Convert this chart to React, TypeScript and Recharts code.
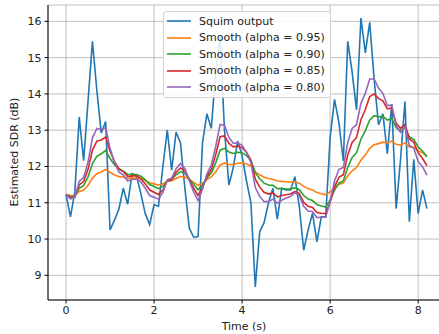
import { LineChart, Line, XAxis, YAxis, CartesianGrid, Legend } from "recharts";

// time axis, one estimate every 100 ms
const times = [
  0, 0.1, 0.2, 0.3, 0.4, 0.5, 0.6, 0.7, 0.8, 0.9,
  1.0, 1.1, 1.2, 1.3, 1.4, 1.5, 1.6, 1.7, 1.8, 1.9,
  2.0, 2.1, 2.2, 2.3, 2.4, 2.5, 2.6, 2.7, 2.8, 2.9,
  3.0, 3.1, 3.2, 3.3, 3.4, 3.5, 3.6, 3.7, 3.8, 3.9,
  4.0, 4.1, 4.2, 4.3, 4.4, 4.5, 4.6, 4.7, 4.8, 4.9,
  5.0, 5.1, 5.2, 5.3, 5.4, 5.5, 5.6, 5.7, 5.8, 5.9,
  6.0, 6.1, 6.2, 6.3, 6.4, 6.5, 6.6, 6.7, 6.8, 6.9,
  7.0, 7.1, 7.2, 7.3, 7.4, 7.5, 7.6, 7.7, 7.8, 7.9,
  8.0, 8.1, 8.2,
];

const squim = [
  11.23, 10.61, 11.3, 13.36, 12.16, 13.8, 15.45, 14.1, 12.92, 13.24,
  10.25, 10.52, 10.82, 11.4, 10.96, 11.8, 11.75, 11.25, 10.7, 10.4,
  10.95, 10.9, 12.0, 13.0, 11.9, 12.95, 12.65, 11.4, 10.3, 10.05,
  10.07, 12.65, 13.45, 13.05, 14.6, 15.6, 13.0, 11.49, 11.97, 12.7,
  12.3, 11.6, 11.0, 8.68, 10.2, 10.45, 11.0, 11.4, 10.55, 11.4,
  11.35, 11.35, 11.72, 10.89, 9.69, 10.25, 10.71, 9.92, 10.61, 10.61,
  12.8, 13.85, 13.2, 12.15, 15.45, 14.6, 13.56, 16.09, 15.13, 15.97,
  14.4, 13.15, 13.45, 12.35, 13.72, 10.84, 12.2, 13.79, 10.48, 12.2,
  10.7, 11.35, 10.84,
];

const smooth95 = [
  11.23, 11.2, 11.2, 11.31, 11.35, 11.48, 11.68, 11.8, 11.85, 11.92,
  11.84, 11.77, 11.72, 11.71, 11.67, 11.68, 11.68, 11.66, 11.61, 11.55,
  11.52, 11.49, 11.52, 11.59, 11.61, 11.67, 11.72, 11.71, 11.64, 11.56,
  11.48, 11.54, 11.64, 11.71, 11.85, 12.04, 12.09, 12.06, 12.05, 12.09,
  12.1, 12.07, 12.02, 11.85, 11.77, 11.7, 11.67, 11.65, 11.6, 11.59,
  11.58, 11.57, 11.57, 11.54, 11.45, 11.39, 11.35, 11.28, 11.25, 11.22,
  11.3, 11.42, 11.51, 11.54, 11.74, 11.88, 11.97, 12.17, 12.32, 12.5,
  12.6, 12.63, 12.67, 12.65, 12.7, 12.61, 12.59, 12.65, 12.54, 12.53,
  12.43, 12.38, 12.3,
];

const smooth90 = [
  11.23, 11.17, 11.18, 11.4, 11.48, 11.71, 12.08, 12.28, 12.35, 12.44,
  12.22, 12.05, 11.93, 11.87, 11.78, 11.78, 11.78, 11.73, 11.63, 11.5,
  11.45, 11.39, 11.45, 11.61, 11.64, 11.77, 11.86, 11.81, 11.66, 11.5,
  11.36, 11.49, 11.68, 11.82, 12.1, 12.45, 12.5, 12.4, 12.36, 12.39,
  12.38, 12.3, 12.17, 11.83, 11.66, 11.54, 11.49, 11.48, 11.39, 11.39,
  11.38, 11.38, 11.41, 11.36, 11.2, 11.1, 11.06, 10.95, 10.91, 10.88,
  11.08, 11.35, 11.54, 11.6, 11.98, 12.25, 12.38, 12.75, 12.99, 13.28,
  13.4, 13.37, 13.38, 13.28, 13.32, 13.07, 12.99, 13.07, 12.81, 12.75,
  12.54, 12.42, 12.26,
];

const smooth85 = [
  11.23, 11.14, 11.16, 11.49, 11.59, 11.92, 12.45, 12.7, 12.73, 12.81,
  12.42, 12.14, 11.94, 11.86, 11.72, 11.74, 11.74, 11.66, 11.52, 11.35,
  11.29, 11.23, 11.35, 11.6, 11.64, 11.84, 11.96, 11.88, 11.64, 11.4,
  11.2, 11.42, 11.72, 11.92, 12.32, 12.82, 12.84, 12.64, 12.54, 12.56,
  12.52, 12.39, 12.18, 11.65, 11.43, 11.29, 11.24, 11.27, 11.16, 11.2,
  11.22, 11.24, 11.31, 11.25, 11.01, 10.9, 10.87, 10.73, 10.71, 10.7,
  11.01, 11.44, 11.7, 11.77, 12.32, 12.66, 12.8, 13.29, 13.57, 13.93,
  14.0, 13.87, 13.81, 13.59, 13.61, 13.19, 13.05, 13.16, 12.76, 12.67,
  12.38, 12.22, 12.02,
];

const smooth80 = [
  11.23, 11.11, 11.15, 11.59, 11.7, 12.12, 12.79, 13.05, 13.02, 13.07,
  12.5, 12.11, 11.85, 11.76, 11.6, 11.64, 11.66, 11.58, 11.4, 11.2,
  11.15, 11.1, 11.28, 11.63, 11.68, 11.94, 12.08, 11.94, 11.61, 11.3,
  11.06, 11.37, 11.79, 12.04, 12.55, 13.16, 13.13, 12.8, 12.64, 12.65,
  12.58, 12.38, 12.11, 11.42, 11.18, 11.03, 11.03, 11.1, 10.99, 11.07,
  11.13, 11.17, 11.28, 11.2, 10.9, 10.77, 10.76, 10.59, 10.6, 10.6,
  11.04, 11.6, 11.92, 11.97, 12.66, 13.05, 13.15, 13.74, 14.02, 14.41,
  14.41, 14.16, 14.01, 13.68, 13.69, 13.12, 12.94, 13.11, 12.58, 12.51,
  12.14, 11.99, 11.76,
];

const xTicks = [0, 2, 4, 6, 8];
const yTicks = [9, 10, 11, 12, 13, 14, 15, 16];

const series = [
  { key: "squim", name: "Squim output", color: "#1f77b4" },
  { key: "a95", name: "Smooth (alpha = 0.95)", color: "#ff7f0e" },
  { key: "a90", name: "Smooth (alpha = 0.90)", color: "#2ca02c" },
  { key: "a85", name: "Smooth (alpha = 0.85)", color: "#d62728" },
  { key: "a80", name: "Smooth (alpha = 0.80)", color: "#9467bd" },
];

const rows = times.map((t, i) => ({
  t,
  squim: squim[i],
  a95: smooth95[i],
  a90: smooth90[i],
  a85: smooth85[i],
  a80: smooth80[i],
}));

const FONT = "'DejaVu Sans', sans-serif";
const tickStyle = { fill: "#222", fontSize: 11, fontFamily: FONT };

function LegendBox() {
  return (
    <div
      style={{
        background: "rgba(255,255,255,0.85)",
        border: "1px solid #d4d4d4",
        borderRadius: 3,
        padding: "1px 5px 1px 3px",
        fontFamily: FONT,
        fontSize: 11,
        color: "#222",
        whiteSpace: "nowrap",
      }}
    >
      {series.map((s) => (
        <div key={s.key} style={{ display: "flex", alignItems: "center", height: 16.5 }}>
          <svg width={24} height={4} style={{ display: "block" }}>
            <line x1={0} y1={2} x2={24} y2={2} stroke={s.color} strokeWidth={1.6} />
          </svg>
          <span style={{ marginLeft: 8 }}>{s.name}</span>
        </div>
      ))}
    </div>
  );
}

export default function App() {
  return (
    <div
      style={{
        position: "fixed",
        left: 0,
        top: 0,
        width: 439,
        height: 334,
        overflow: "hidden",
        background: "#fff",
      }}
    >
      <LineChart
        width={445}
        height={334}
        data={rows}
        margin={{ top: 5, right: 0, bottom: 0, left: 0 }}
      >
        <CartesianGrid stroke="#b0b0b0" strokeWidth={0.8} />
        <XAxis
          dataKey="t"
          type="number"
          domain={[-0.41, 8.61]}
          ticks={xTicks}
          allowDataOverflow
          stroke="#000"
          tickSize={3.5}
          tickMargin={3}
          tick={tickStyle}
          height={34}
          label={{
            content: () => (
              <text x={244} y={330} textAnchor="middle" fill="#222" fontSize={11} fontFamily={FONT}>
                Time (s)
              </text>
            ),
          }}
        />
        <XAxis
          xAxisId="top"
          dataKey="t"
          type="number"
          domain={[-0.41, 8.61]}
          orientation="top"
          stroke="#000"
          tick={false}
          tickLine={false}
          height={0}
        />
        <YAxis
          type="number"
          domain={[8.32, 16.45]}
          ticks={yTicks}
          allowDataOverflow
          stroke="#000"
          width={48}
          tickSize={3.5}
          tickMargin={3}
          tick={tickStyle}
          label={{
            content: () => (
              <text
                x={18}
                y={152}
                textAnchor="middle"
                fill="#222"
                fontSize={11}
                fontFamily={FONT}
                transform="rotate(-90 18 152)"
              >
                Estimated SDR (dB)
              </text>
            ),
          }}
        />
        <Legend
          layout="vertical"
          align="center"
          verticalAlign="middle"
          wrapperStyle={{ left: 163, top: 11, width: "auto" }}
          content={() => <LegendBox />}
        />
        {series.map((s) => (
          <Line
            key={s.key}
            dataKey={s.key}
            name={s.name}
            stroke={s.color}
            strokeWidth={1.6}
            dot={false}
            type="linear"
            isAnimationActive={false}
          />
        ))}
      </LineChart>
    </div>
  );
}
